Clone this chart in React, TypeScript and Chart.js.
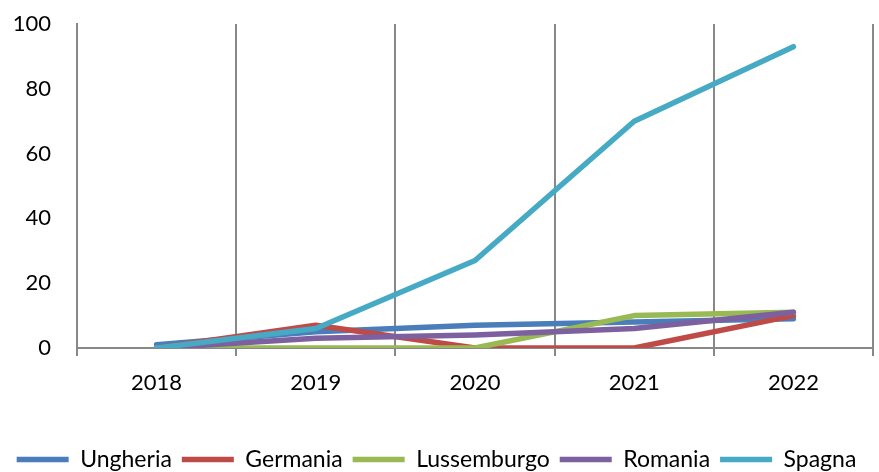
import React, { useEffect, useRef } from 'react';
import { Chart, registerables } from 'chart.js';
Chart.register(...registerables);

const years = ['2018', '2019', '2020', '2021', '2022'];
const ungheria = [1, 5, 7, 8, 9];
const germania = [0, 7, 0, 0, 10];
const lussemburgo = [0, 0, 0, 10, 11];
const romania = [0, 3, 4, 6, 11];
const spagna = [0, 6, 27, 70, 93];
const yTicks = [0, 20, 40, 60, 80, 100];
const seriesNames = ['Ungheria', 'Germania', 'Lussemburgo', 'Romania', 'Spagna'];
const seriesValues = [ungheria, germania, lussemburgo, romania, spagna];
const seriesColors = ['#4A7EBB', '#BE4B48', '#98B954', '#7D60A0', '#46AAC5'];

const FONT = 'Lato';
const GRID = '#888888';

export default function App() {
  const ref = useRef<HTMLCanvasElement | null>(null);
  useEffect(() => {
    document.body.style.margin = '0';
    const canvas = ref.current;
    if (!canvas) return;
    const shiftLegend = {
      id: 'shiftLegend',
      afterLayout(chart: any) {
        if (chart.legend) {
          chart.legend.top += 9;
          chart.legend.bottom += 9;
        }
      },
    };
    const chart = new Chart(canvas, {
      type: 'line',
      data: {
        labels: years,
        datasets: seriesNames.map((name, i) => ({
          label: name,
          data: seriesValues[i],
          borderColor: seriesColors[i],
          backgroundColor: seriesColors[i],
          borderWidth: 5.5,
          borderCapStyle: 'round' as const,
          borderJoinStyle: 'round' as const,
          pointRadius: 0,
          pointHoverRadius: 0,
          tension: 0,
          order: seriesNames.length - i,
        })),
      },
      options: {
        responsive: false,
        animation: false,
        layout: { padding: { top: 24, right: 6, left: 0, bottom: 0 } },
        plugins: {
          tooltip: { enabled: false },
          legend: {
            position: 'bottom',
            labels: {
              usePointStyle: true,
              pointStyle: 'line',
              pointStyleWidth: 52,
              padding: 10,
              color: '#000',
              font: { family: FONT, size: 23 },
              sort: (a: any, b: any) => a.datasetIndex - b.datasetIndex,
            },
          },
        },
        scales: {
          x: {
            offset: true,
            grid: {
              display: true,
              offset: true,
              color: GRID,
              lineWidth: 2,
              drawTicks: true,
              tickLength: 8,
            },
            border: { display: true, color: GRID, width: 2 },
            ticks: {
              color: '#000',
              font: { family: FONT, size: 22 },
              padding: 14,
              maxRotation: 0,
            },
            afterFit(scale: any) {
              scale.height = 81;
            },
          },
          y: {
            min: 0,
            max: 100,
            grid: { display: false, drawTicks: false, tickLength: 0 },
            border: { display: true, color: GRID, width: 2 },
            ticks: {
              color: '#000',
              font: { family: FONT, size: 22 },
              padding: 26,
            },
            afterBuildTicks(scale: any) {
              scale.ticks = yTicks.map((v) => ({ value: v }));
            },
            afterFit(scale: any) {
              scale.width = 77;
              scale.paddingTop = 0;
              scale.paddingBottom = 0;
            },
          },
        },
      },
      plugins: [shiftLegend],
    });
    return () => chart.destroy();
  }, []);
  return (
    <div style={{ width: 879, height: 472 }}>
      <canvas ref={ref} width={879} height={472} style={{ display: 'block' }} />
    </div>
  );
}
